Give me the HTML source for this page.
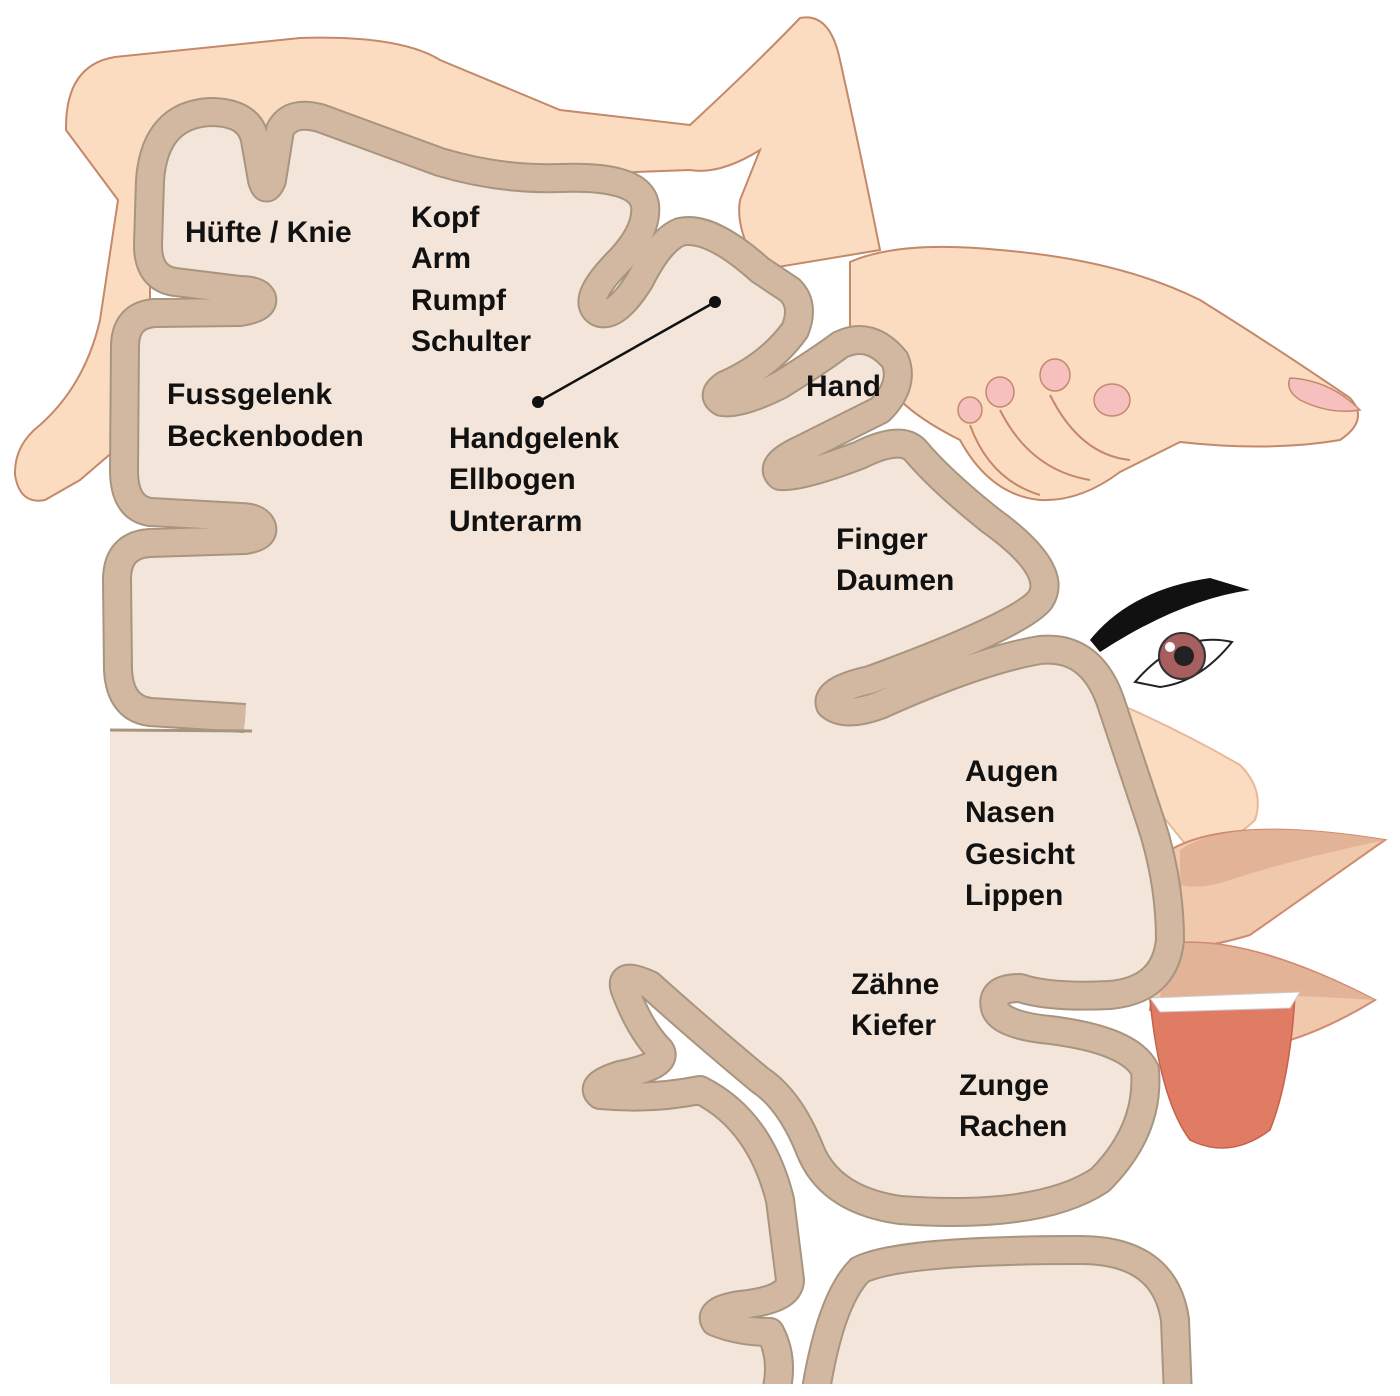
<!DOCTYPE html>
<html><head><meta charset="utf-8"><style>
html,body{margin:0;padding:0;background:#fff;}
svg{display:block;}
text{font-family:"Liberation Sans",sans-serif;font-size:30px;font-weight:bold;fill:#111;}
</style></head><body>
<svg width="1400" height="1396" viewBox="0 0 1400 1396" xmlns="http://www.w3.org/2000/svg">
<!-- leg -->
<path d="M150,190 L150,420 L80,480 L45,500 Q20,505 15,475 Q14,445 40,425 Q85,385 100,320 L118,200 L66,130 Q65,65 115,57 L300,38 Q400,35 440,60 L560,110 L690,125 Q760,60 800,18 Q830,12 840,60 Q860,150 880,250 L760,270 Q735,230 740,200 L760,150 Q720,175 690,170 Z" fill="#fcdcc0" stroke="#c4886a" stroke-width="2"/>
<!-- hand -->
<path d="M850,262 Q900,240 1000,250 Q1120,260 1200,300 Q1280,350 1350,398 Q1370,420 1340,440 Q1270,452 1180,442 Q1140,462 1120,472 Q1080,502 1040,500 Q990,495 960,440 Q920,420 900,400 L850,330 Z" fill="#fcdcc0" stroke="#c4886a" stroke-width="2"/>
<path d="M1290,378 Q1330,380 1360,410 Q1330,415 1300,400 Q1285,390 1290,378 Z" fill="#f5c0bd" stroke="#c4886a" stroke-width="1.5"/>
<ellipse cx="1112" cy="400" rx="18" ry="16" fill="#f5c0bd" stroke="#c4886a" stroke-width="1.5"/>
<ellipse cx="1055" cy="375" rx="15" ry="16" fill="#f5c0bd" stroke="#c4886a" stroke-width="1.5"/>
<ellipse cx="1000" cy="392" rx="14" ry="15" fill="#f5c0bd" stroke="#c4886a" stroke-width="1.5"/>
<ellipse cx="970" cy="410" rx="12" ry="13" fill="#f5c0bd" stroke="#c4886a" stroke-width="1.5"/>
<path d="M1000,410 Q1030,470 1090,480 M1050,395 Q1080,455 1130,460 M970,425 Q990,480 1040,495" fill="none" stroke="#c4886a" stroke-width="2"/>
<!-- face -->
<path d="M1090,640 Q1130,590 1210,578 L1250,590 Q1180,600 1100,652 Z" fill="#111"/>
<path d="M1135,682 Q1180,630 1232,642 Q1200,682 1160,687 Z" fill="#fff" stroke="#222" stroke-width="2"/>
<circle cx="1182" cy="656" r="23" fill="#a65e5e" stroke="#333" stroke-width="2"/>
<circle cx="1184" cy="656" r="10" fill="#222"/>
<circle cx="1170" cy="647" r="5" fill="#fff"/>
<path d="M1110,700 Q1180,730 1240,765 Q1265,790 1255,820 Q1230,845 1190,850 L1150,800 Z" fill="#fcdcc0" stroke="#e8b898" stroke-width="2"/>
<path d="M1170,850 Q1230,815 1385,840 Q1300,900 1250,935 Q1200,950 1180,945 Z" fill="#f0c8ab" stroke="#d08a70" stroke-width="2"/>
<path d="M1180,850 Q1230,815 1385,840 Q1290,860 1230,880 Q1200,890 1180,885 Z" fill="#e2b396"/>
<path d="M1160,945 Q1240,930 1375,1000 Q1310,1040 1250,1050 L1150,1010 Z" fill="#f0c8ab" stroke="#d08a70" stroke-width="2"/>
<path d="M1165,945 Q1240,932 1375,1000 Q1300,995 1230,995 L1160,1000 Z" fill="#e2b396"/>
<path d="M1150,1000 L1295,995 Q1290,1080 1270,1130 Q1230,1160 1190,1140 Q1160,1100 1150,1000 Z" fill="#e07c64" stroke="#c8604c" stroke-width="1.5"/>
<path d="M1150,998 L1300,992 L1290,1008 L1160,1012 Z" fill="#fff" stroke="#ccc" stroke-width="1"/>
<!-- brain interior -->
<path id="b1" d="M245,718 L150,712 Q120,708 118,670 L117,580 Q117,545 150,543 L245,540 Q265,537 262,527 Q258,517 240,517 L150,512 Q124,508 124,470 L125,345 Q126,315 155,313 L240,312 Q265,308 262,298 Q258,290 240,290 L175,282 Q148,278 148,245 L150,180 Q155,115 210,112 Q250,112 255,140 L262,180 Q266,195 272,180 L280,130 Q290,110 320,118 Q380,140 440,162 Q500,180 560,178 Q640,175 645,205 Q648,230 620,260 Q580,300 598,312 Q615,320 640,280 Q660,240 680,232 Q710,225 760,270 L790,290 Q805,305 795,330 Q770,365 725,385 Q710,395 722,402 Q740,405 780,385 Q820,360 840,345 Q870,330 895,360 Q905,385 880,410 L800,450 Q768,465 780,476 Q800,478 860,455 Q900,435 915,450 Q940,480 990,520 Q1060,570 1040,600 Q1020,625 870,680 Q825,690 830,705 Q845,718 880,705 Q980,660 1040,650 Q1090,645 1110,700 Q1130,760 1150,820 Q1170,880 1170,940 Q1165,990 1110,995 Q1050,998 1020,988 Q990,988 995,1008 Q1000,1025 1050,1030 Q1130,1040 1145,1070 Q1150,1130 1100,1180 Q1040,1220 900,1210 Q830,1200 810,1150 Q790,1100 760,1080 Q700,1030 650,985 Q618,970 625,990 Q640,1030 660,1050 Q670,1065 620,1075 Q588,1085 600,1095 Q650,1100 700,1090 Q760,1120 780,1200 L790,1280 Q790,1300 740,1305 Q708,1310 715,1322 Q740,1332 770,1332 Q785,1360 775,1396"/>
<path d="M245,718 L150,712 Q120,708 118,670 L117,580 Q117,545 150,543 L245,540 Q265,537 262,527 Q258,517 240,517 L150,512 Q124,508 124,470 L125,345 Q126,315 155,313 L240,312 Q265,308 262,298 Q258,290 240,290 L175,282 Q148,278 148,245 L150,180 Q155,115 210,112 Q250,112 255,140 L262,180 Q266,195 272,180 L280,130 Q290,110 320,118 Q380,140 440,162 Q500,180 560,178 Q640,175 645,205 Q648,230 620,260 Q580,300 598,312 Q615,320 640,280 Q660,240 680,232 Q710,225 760,270 L790,290 Q805,305 795,330 Q770,365 725,385 Q710,395 722,402 Q740,405 780,385 Q820,360 840,345 Q870,330 895,360 Q905,385 880,410 L800,450 Q768,465 780,476 Q800,478 860,455 Q900,435 915,450 Q940,480 990,520 Q1060,570 1040,600 Q1020,625 870,680 Q825,690 830,705 Q845,718 880,705 Q980,660 1040,650 Q1090,645 1110,700 Q1130,760 1150,820 Q1170,880 1170,940 Q1165,990 1110,995 Q1050,998 1020,988 Q990,988 995,1008 Q1000,1025 1050,1030 Q1130,1040 1145,1070 Q1150,1130 1100,1180 Q1040,1220 900,1210 Q830,1200 810,1150 Q790,1100 760,1080 Q700,1030 650,985 Q618,970 625,990 Q640,1030 660,1050 Q670,1065 620,1075 Q588,1085 600,1095 Q650,1100 700,1090 Q760,1120 780,1200 L790,1280 Q790,1300 740,1305 Q708,1310 715,1322 Q740,1332 770,1332 Q785,1360 775,1396 L110,1396 L110,730 L245,730 Z" fill="#f3e5d9"/>
<path d="M815,1396 Q830,1300 860,1270 Q900,1250 1080,1250 Q1165,1250 1175,1320 L1178,1396 Z" fill="#f3e5d9"/>
<use href="#b1" fill="none" stroke="#a8957f" stroke-width="30" stroke-linejoin="round"/>
<use href="#b1" fill="none" stroke="#d2b7a1" stroke-width="26" stroke-linejoin="round"/>
<path d="M815,1396 Q830,1300 860,1270 Q900,1250 1080,1250 Q1165,1250 1175,1320 L1178,1396" fill="none" stroke="#a8957f" stroke-width="30"/>
<path d="M815,1396 Q830,1300 860,1270 Q900,1250 1080,1250 Q1165,1250 1175,1320 L1178,1396" fill="none" stroke="#d2b7a1" stroke-width="26"/>
<rect x="0" y="1384" width="1400" height="12" fill="#fff"/>
<line x1="110" y1="730" x2="252" y2="731" stroke="#a8957f" stroke-width="3"/>
<!-- connector -->
<line x1="538" y1="402" x2="715" y2="302" stroke="#111" stroke-width="2.5"/>
<circle cx="538" cy="402" r="6" fill="#111"/>
<circle cx="715" cy="302" r="6" fill="#111"/>
<!-- labels -->
<text x="185" y="242">Hüfte / Knie</text>
<text x="411" y="227">Kopf</text>
<text x="411" y="268">Arm</text>
<text x="411" y="310">Rumpf</text>
<text x="411" y="351">Schulter</text>
<text x="167" y="404">Fussgelenk</text>
<text x="167" y="446">Beckenboden</text>
<text x="449" y="448">Handgelenk</text>
<text x="449" y="489">Ellbogen</text>
<text x="449" y="531">Unterarm</text>
<text x="806" y="396">Hand</text>
<text x="836" y="549">Finger</text>
<text x="836" y="590">Daumen</text>
<text x="965" y="781">Augen</text>
<text x="965" y="822">Nasen</text>
<text x="965" y="864">Gesicht</text>
<text x="965" y="905">Lippen</text>
<text x="851" y="994">Zähne</text>
<text x="851" y="1035">Kiefer</text>
<text x="959" y="1095">Zunge</text>
<text x="959" y="1136">Rachen</text>
</svg>
</body></html>
